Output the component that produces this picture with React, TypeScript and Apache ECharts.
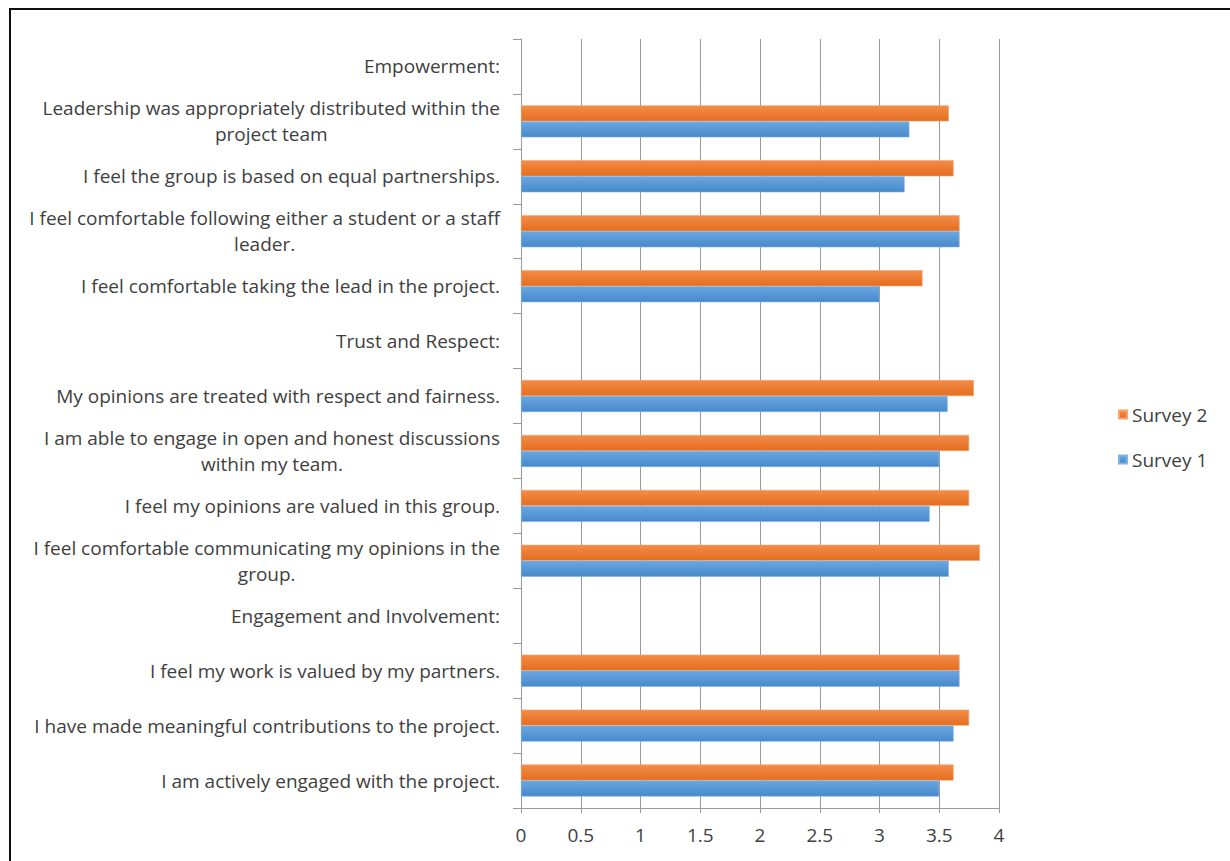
import React, { useEffect, useRef } from "react";
import * as echarts from "echarts";

const categories: string[] = [
  "I am actively engaged with the project.",
  "I have made meaningful contributions to the project.",
  "I feel my work is valued by my partners.",
  "Engagement and Involvement:",
  "I feel comfortable communicating my opinions in the\ngroup.",
  "I feel my opinions are valued in this group.",
  "I am able to engage in open and honest discussions\nwithin my team.",
  "My opinions are treated with respect and fairness.",
  "Trust and Respect:",
  "I feel comfortable taking the lead in the project.",
  "I feel comfortable following either a student or a staff\nleader.",
  "I feel the group is based on equal partnerships.",
  "Leadership was appropriately distributed within the\nproject team",
  "Empowerment:",
];

const survey1: (number | null)[] = [
  3.5, 3.62, 3.67, null, 3.58, 3.42, 3.5, 3.57, null, 3.0, 3.67, 3.21, 3.25, null,
];
const survey2: (number | null)[] = [
  3.62, 3.75, 3.67, null, 3.84, 3.75, 3.75, 3.79, null, 3.36, 3.67, 3.62, 3.58, null,
];

const xTicks = { min: 0, max: 4, interval: 0.5 };
const seriesNames = ["Survey 2", "Survey 1"];

const FONT = "'Open Sans', Lato, sans-serif";
const FS = 19;

export default function App() {
  const ref = useRef<HTMLDivElement>(null);
  useEffect(() => {
    if (!ref.current) return;
    const chart = echarts.init(ref.current, null, { renderer: "svg" });
    const orange = new echarts.graphic.LinearGradient(0, 0, 0, 1, [
      { offset: 0, color: "#F38C48" },
      { offset: 1, color: "#E56D1F" },
    ]);
    const blue = new echarts.graphic.LinearGradient(0, 0, 0, 1, [
      { offset: 0, color: "#6BA7E0" },
      { offset: 1, color: "#4689CC" },
    ]);
    chart.setOption({
      animation: false,
      backgroundColor: "#ffffff",
      textStyle: { fontFamily: FONT },
      graphic: [
        {
          type: "rect",
          shape: { x: 10, y: 9, width: 1300, height: 900 },
          style: { fill: "none", stroke: "#111", lineWidth: 2 },
          silent: true,
        },
      ],
      grid: { left: 521, right: 231, top: 39, bottom: 53 },
      legend: {
        orient: "vertical",
        left: 1113,
        top: 400,
        itemWidth: 8,
        itemHeight: 8,
        itemGap: 26,
        icon: "rect",
        data: seriesNames,
        textStyle: { fontFamily: FONT, fontSize: FS, color: "#404040" },
      },
      xAxis: {
        type: "value",
        min: xTicks.min,
        max: xTicks.max,
        interval: xTicks.interval,
        axisLine: { show: true, lineStyle: { color: "#9a9a9a", width: 1 } },
        axisTick: { show: true, length: 5, lineStyle: { color: "#9a9a9a" } },
        splitLine: { show: true, lineStyle: { color: "#9a9a9a", width: 1 } },
        axisLabel: {
          fontFamily: FONT,
          fontSize: FS,
          color: "#404040",
          margin: 17,
          formatter: (v: number) => String(v),
        },
      },
      yAxis: {
        type: "category",
        data: categories,
        axisLine: { show: true, lineStyle: { color: "#9a9a9a", width: 1 } },
        axisTick: { show: true, length: 8, lineStyle: { color: "#9a9a9a" } },
        splitLine: { show: false },
        axisLabel: {
          fontFamily: FONT,
          fontSize: FS,
          color: "#404040",
          margin: 21,
          align: "right",
          lineHeight: 26,
          formatter: (v: string) =>
            v
              .split("\n")
              .map((l) => `{c|${l}}`)
              .join("\n"),
          rich: {
            c: {
              align: "center",
              fontFamily: FONT,
              fontSize: FS,
              color: "#404040",
              lineHeight: 26,
            },
          },
        },
      },
      series: [
        {
          name: "Survey 2",
          type: "bar",
          data: survey2,
          barWidth: 16,
          barGap: "0%",
          itemStyle: { color: orange, borderColor: "#F6A36E", borderWidth: 0.6 },
          emphasis: { disabled: true },
        },
        {
          name: "Survey 1",
          type: "bar",
          data: survey1,
          barWidth: 16,
          barGap: "0%",
          itemStyle: { color: blue, borderColor: "#7DB3E6", borderWidth: 0.6 },
          emphasis: { disabled: true },
        },
      ],
    });
    return () => chart.dispose();
  }, []);
  return (
    <div
      ref={ref}
      style={{ position: "absolute", left: 0, top: 0, width: 1230, height: 861 }}
    />
  );
}
